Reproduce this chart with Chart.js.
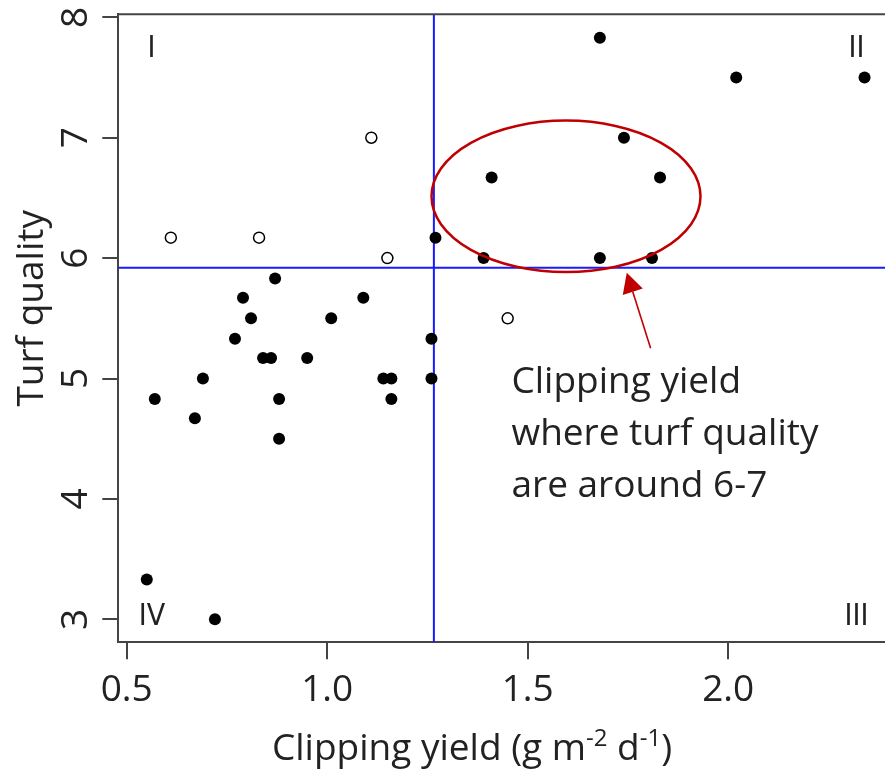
<!DOCTYPE html>
<html lang="en">
<head>
    <meta charset="UTF-8">
    <title>Turf quality vs clipping yield</title>
    <script src="https://cdn.jsdelivr.net/npm/chart.js"></script>
    <style>
        body {
            margin: 0;
            background: white;
            overflow: hidden;
        }
        canvas {
            display: block;
        }
    </style>
</head>
<body>
    <canvas id="turfChart" width="885" height="773" style="width:885px;height:773px"></canvas>
    <script>
        // axis ranges and ticks (right edge of the frame falls outside the picture)
        const xMin = 0.479, xMax = 2.391;
        const yMin = 2.809, yMax = 8.025;
        const xTicks = [0.5, 1.0, 1.5, 2.0];
        const xTickLabels = ['0.5', '1.0', '1.5', '2.0'];
        const yTicks = [3, 4, 5, 6, 7, 8];

        // filled points
        const filledX = [1.27, 0.87, 0.79, 1.09, 0.81, 1.01, 0.77, 0.84, 0.86, 0.95, 1.26, 0.69, 1.14, 1.16, 1.26,
                         0.57, 0.88, 1.16, 0.67, 0.88, 0.55, 0.72, 1.68, 2.02, 2.34, 1.74, 1.41, 1.83, 1.39, 1.68, 1.81];
        const filledY = [6.17, 5.83, 5.67, 5.67, 5.5, 5.5, 5.33, 5.17, 5.17, 5.17, 5.33, 5.0, 5.0, 5.0, 5.0,
                         4.83, 4.83, 4.83, 4.67, 4.5, 3.33, 3.0, 7.83, 7.5, 7.5, 7.0, 6.67, 6.67, 6.0, 6.0, 6.0];

        // open points
        const openX = [1.11, 0.61, 0.83, 1.15, 1.45];
        const openY = [7.0, 6.17, 6.17, 6.0, 5.5];

        // blue cut lines
        const cutX = 1.266;
        const cutY = 5.92;

        const quadrantLabels = [
            { text: 'I', x: 0.562, y: 7.67 },
            { text: 'II', x: 2.32, y: 7.67 },
            { text: 'III', x: 2.32, y: 2.953 },
            { text: 'IV', x: 0.563, y: 2.953 }
        ];

        const noteLines = ['Clipping yield', 'where turf quality', 'are around 6-7'];

        const toPoints = (xs, ys) => xs.map((v, i) => ({ x: v, y: ys[i] }));

        const mainFont = '37px "Open Sans", "Noto Sans", sans-serif';
        const textColor = '#222';
        const red = '#c00000';

        const decorations = {
            id: 'decorations',
            afterDatasetsDraw(chart) {
                const { ctx, chartArea: a, scales: { x, y } } = chart;
                ctx.save();

                // top frame line
                ctx.strokeStyle = '#444';
                ctx.lineWidth = 2;
                ctx.beginPath();
                ctx.moveTo(a.left - 1, a.top);
                ctx.lineTo(a.right, a.top);
                ctx.stroke();

                // ellipse around the 6-7 points
                ctx.strokeStyle = red;
                ctx.lineWidth = 2.5;
                const cx = x.getPixelForValue(1.5955), cy = y.getPixelForValue(6.513);
                const rx = x.getPixelForValue(1.5955 + 0.3354) - cx;
                const ry = cy - y.getPixelForValue(6.513 + 0.629);
                ctx.beginPath();
                ctx.ellipse(cx, cy, rx, ry, 0, 0, Math.PI * 2);
                ctx.stroke();

                // arrow
                const x0 = x.getPixelForValue(1.8065), y0 = y.getPixelForValue(5.251);
                const x1 = x.getPixelForValue(1.747), y1 = y.getPixelForValue(5.879);
                const len = Math.hypot(x1 - x0, y1 - y0);
                const ux = (x1 - x0) / len, uy = (y1 - y0) / len;
                const headL = 20, headW = 10.5;
                ctx.lineWidth = 1.6;
                ctx.beginPath();
                ctx.moveTo(x0, y0);
                ctx.lineTo(x1 - ux * headL, y1 - uy * headL);
                ctx.stroke();
                ctx.fillStyle = red;
                ctx.beginPath();
                ctx.moveTo(x1, y1);
                ctx.lineTo(x1 - ux * headL - uy * headW, y1 - uy * headL + ux * headW);
                ctx.lineTo(x1 - ux * headL + uy * headW, y1 - uy * headL - ux * headW);
                ctx.closePath();
                ctx.fill();

                // note text
                ctx.fillStyle = textColor;
                ctx.font = mainFont;
                ctx.textAlign = 'left';
                ctx.textBaseline = 'alphabetic';
                const nx = x.getPixelForValue(1.4595), ny = y.getPixelForValue(4.877);
                noteLines.forEach((t, i) => ctx.fillText(t, nx, ny + i * 52));

                // quadrant numerals
                ctx.font = '30px "Liberation Sans Narrow", "DejaVu Sans Condensed", sans-serif';
                ctx.textAlign = 'center';
                quadrantLabels.forEach(q => ctx.fillText(q.text, x.getPixelForValue(q.x), y.getPixelForValue(q.y)));

                // x tick labels
                ctx.font = mainFont;
                xTicks.forEach((v, i) => ctx.fillText(xTickLabels[i], x.getPixelForValue(v), a.bottom + 59));

                // y tick labels, rotated like R does
                yTicks.forEach(v => {
                    ctx.save();
                    ctx.translate(a.left - 31, y.getPixelForValue(v));
                    ctx.rotate(-Math.PI / 2);
                    ctx.fillText(String(v), 0, 0);
                    ctx.restore();
                });

                // y title
                ctx.save();
                ctx.translate(43, a.top + 294);
                ctx.rotate(-Math.PI / 2);
                ctx.fillText('Turf quality', 0, 0);
                ctx.restore();

                // x title with superscripts
                const supFont = '24px "Open Sans", "Noto Sans", sans-serif';
                const parts = [['Clipping yield (g m', 0], ['-2', 1], [' d', 0], ['-1', 1], [')', 0]];
                let total = 0;
                parts.forEach(p => { ctx.font = p[1] ? supFont : mainFont; total += ctx.measureText(p[0]).width; });
                let px = 472 - total / 2;
                const base = a.bottom + 118;
                ctx.textAlign = 'left';
                parts.forEach(p => {
                    ctx.font = p[1] ? supFont : mainFont;
                    ctx.fillText(p[0], px, p[1] ? base - 14 : base);
                    px += ctx.measureText(p[0]).width;
                });

                ctx.restore();
            }
        };

        const ctx = document.getElementById('turfChart').getContext('2d');
        const chart = new Chart(ctx, {
            type: 'scatter',
            data: {
                datasets: [
                    {
                        label: 'filled',
                        data: toPoints(filledX, filledY),
                        backgroundColor: '#000',
                        borderColor: '#000',
                        borderWidth: 0,
                        pointRadius: 6
                    },
                    {
                        label: 'open',
                        data: toPoints(openX, openY),
                        backgroundColor: '#fff',
                        borderColor: '#000',
                        borderWidth: 1.5,
                        pointRadius: 5.5
                    },
                    {
                        label: 'vertical cut',
                        data: [{ x: cutX, y: yMin }, { x: cutX, y: yMax }],
                        showLine: true,
                        borderColor: '#1a1aff',
                        borderWidth: 2,
                        pointRadius: 0
                    },
                    {
                        label: 'horizontal cut',
                        data: [{ x: xMin, y: cutY }, { x: xMax, y: cutY }],
                        showLine: true,
                        borderColor: '#1a1aff',
                        borderWidth: 2,
                        pointRadius: 0
                    }
                ]
            },
            options: {
                responsive: false,
                devicePixelRatio: 1,
                animation: false,
                layout: { autoPadding: false, padding: { top: 14.3, left: 0, right: 0, bottom: 0 } },
                plugins: {
                    legend: { display: false },
                    tooltip: { enabled: false }
                },
                scales: {
                    x: {
                        type: 'linear',
                        min: xMin,
                        max: xMax,
                        afterBuildTicks: s => { s.ticks = xTicks.map(v => ({ value: v })); },
                        afterFit: s => { s.height = 130.7; },
                        ticks: { display: false },
                        grid: { drawOnChartArea: false, drawTicks: true, tickLength: 17, color: '#444', lineWidth: 2 },
                        border: { display: true, color: '#444', width: 2 }
                    },
                    y: {
                        type: 'linear',
                        min: yMin,
                        max: yMax,
                        afterBuildTicks: s => { s.ticks = yTicks.map(v => ({ value: v })); },
                        afterFit: s => { s.width = 118.3; },
                        ticks: { display: false },
                        grid: { drawOnChartArea: false, drawTicks: true, tickLength: 16, color: '#444', lineWidth: 2 },
                        border: { display: true, color: '#444', width: 2 }
                    }
                }
            },
            plugins: [decorations]
        });
    </script>
</body>
</html>
